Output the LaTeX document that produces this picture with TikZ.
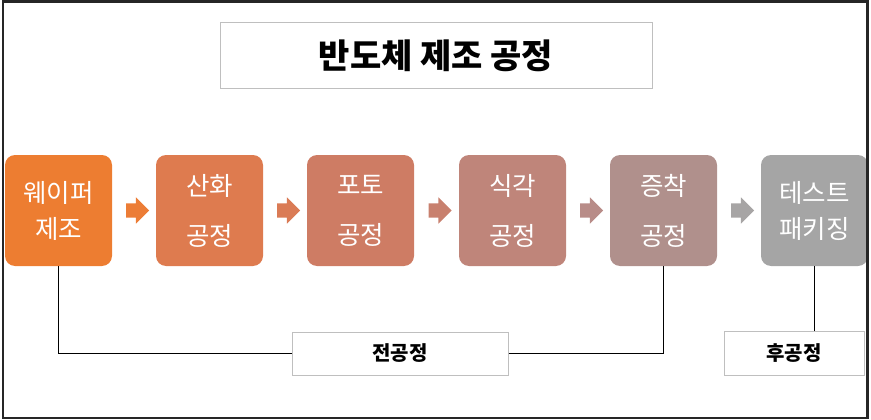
\documentclass[tikz,border=0pt]{standalone}
\usepackage{fontspec}
\setmainfont{Noto Sans CJK KR}
\usepackage{tikz}
\usetikzlibrary{shapes.arrows,positioning,calc}
\usepackage{xcolor}
\definecolor{stepA}{HTML}{ED7D31}
\definecolor{stepB}{HTML}{DE7B4F}
\definecolor{stepC}{HTML}{CE7C64}
\definecolor{stepD}{HTML}{BF857A}
\definecolor{stepE}{HTML}{B0908C}
\definecolor{stepF}{HTML}{A5A5A5}
\definecolor{arrA}{HTML}{EC7D36}
\definecolor{arrB}{HTML}{DA7B55}
\definecolor{arrC}{HTML}{C8806E}
\definecolor{arrD}{HTML}{B88C88}
\definecolor{arrE}{HTML}{A7A5A5}
\definecolor{boxline}{HTML}{BFBFBF}

\begin{document}
\begin{tikzpicture}[x=1pt,y=-1pt,
    procbox/.style={rectangle,rounded corners=10pt,minimum width=107pt,
      minimum height=111pt,inner sep=0pt,align=center,text=white},
    tight/.style={font=\fontsize{25.5}{36}\selectfont},
    loose/.style={font=\fontsize{25.5}{50}\selectfont},
    flow/.style={single arrow,minimum height=23pt,inner xsep=0pt,
      inner ysep=7pt,single arrow head extend=6pt,text width=0pt},
    labbox/.style={draw=boxline,line width=1pt,fill=white,inner sep=0pt}]
  \useasboundingbox (0,0) rectangle (871,420);
  % title
  \node[labbox,minimum width=432pt,minimum height=66pt,
    font=\fontsize{34}{38}\selectfont\bfseries] (title) at (436,56) {반도체 제조 공정};
  % process steps
  \node[procbox,tight,fill=stepA] (wafer) at (58.5,210.5) {웨이퍼\\제조};
  \node[procbox,loose,fill=stepB] (oxid) at (209.5,210.5) {산화\\공정};
  \node[procbox,loose,fill=stepC] (photo) at (360.5,210.5) {포토\\공정};
  \node[procbox,loose,fill=stepD] (etch) at (512.5,210.5) {식각\\공정};
  \node[procbox,loose,fill=stepE] (depo) at (663.5,210.5) {증착\\공정};
  \node[procbox,tight,fill=stepF] (pack) at (814.5,210.5) {테스트\\패키징};
  % arrows between steps
  \node[flow,fill=arrA] (a1) at ($(wafer.east)!0.5!(oxid.west)$) {};
  \node[flow,fill=arrB] (a2) at ($(oxid.east)!0.5!(photo.west)$) {};
  \node[flow,fill=arrC] (a3) at ($(photo.east)!0.5!(etch.west)$) {};
  \node[flow,fill=arrD] (a4) at ($(etch.east)!0.5!(depo.west)$) {};
  \node[flow,fill=arrE] (a5) at ($(depo.east)!0.5!(pack.west)$) {};
  % groups
  \node[labbox,minimum width=216pt,minimum height=43pt,
    font=\fontsize{20}{22}\selectfont\bfseries] (front) at (400,353.5) {전공정};
  \node[labbox,minimum width=140pt,minimum height=44pt,
    font=\fontsize{20}{22}\selectfont\bfseries] (back) at (794,353.5) {후공정};
  \draw[thick] (wafer.south) |- (front.west);
  \draw[thick] (front.east) -| (depo.south);
  \draw[thick] (pack.south) -- (pack.south |- back.north);
  % frame
  \draw[line width=2.2pt,black!85] (3,1.5) rectangle (867.5,418);
\end{tikzpicture}
\end{document}
